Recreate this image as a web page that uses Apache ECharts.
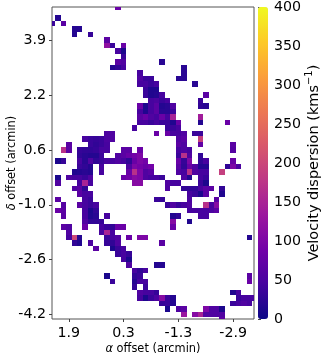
<!DOCTYPE html>
<html>
<head>
<meta charset="utf-8">
<script src="https://cdn.jsdelivr.net/npm/echarts@6/dist/echarts.min.js"></script>
<style>
  html, body { margin: 0; padding: 0; background: #fff; }
  #chart { width: 323px; height: 356px; }
</style>
</head>
<body>
<div id="chart"></div>
<script>
// velocity dispersion per map row, top to bottom: { column: km/s }
const dispersionRows = [
  {12: 80},
  {},
  {1: 18},
  {0: 35, 2: 65},
  {4: 18, 5: 18},
  {4: 18, 7: 32},
  {10: 65},
  {10: 120, 11: 35, 13: 80},
  {12: 45, 13: 12},
  {13: 35},
  {12: 65, 13: 55, 20: 22},
  {11: 18, 12: 28, 13: 45, 24: 22},
  {16: 45, 24: 22},
  {16: 55, 17: 35, 18: 35, 23: 22, 24: 22},
  {16: 45, 17: 45, 18: 35, 19: 45, 26: 22},
  {17: 35, 18: 15, 19: 15},
  {17: 35, 18: 15, 19: 18, 20: 45, 28: 65},
  {18: 45, 19: 50, 20: 35, 21: 45, 27: 35},
  {16: 80, 17: 12, 18: 45, 19: 65, 20: 18, 21: 22, 22: 55, 27: 28, 28: 22},
  {16: 45, 17: 15, 18: 45, 19: 65, 20: 22, 21: 22, 22: 35},
  {16: 65, 17: 80, 18: 55, 19: 45, 20: 80, 21: 45, 22: 150, 27: 140},
  {16: 45, 17: 45, 18: 35, 19: 45, 20: 35, 21: 35, 22: 15, 23: 80, 27: 18, 32: 80},
  {15: 45, 21: 35, 22: 35, 23: 45},
  {10: 50, 11: 55, 19: 80, 21: 80, 22: 45, 23: 45, 24: 55, 26: 35, 27: 35},
  {6: 45, 7: 35, 8: 32, 9: 35, 10: 50, 11: 55, 23: 55, 24: 65, 27: 190},
  {3: 65, 7: 35, 8: 28, 9: 35, 10: 45, 23: 65, 24: 55, 27: 72, 33: 65},
  {2: 170, 3: 65, 5: 32, 6: 28, 7: 28, 8: 32, 9: 45, 10: 45, 13: 65, 14: 65, 16: 80, 23: 45, 24: 55, 25: 45, 33: 60},
  {5: 28, 6: 22, 7: 18, 8: 18, 9: 35, 12: 55, 13: 65, 14: 80, 15: 90, 16: 100, 23: 35, 24: 170, 25: 55, 27: 28},
  {1: 12, 2: 32, 5: 45, 6: 22, 7: 55, 8: 28, 9: 35, 10: 45, 11: 45, 12: 55, 13: 45, 14: 28, 15: 80, 16: 100, 17: 90, 23: 80, 24: 32, 25: 100, 27: 28, 28: 45, 33: 80},
  {5: 35, 6: 28, 7: 18, 9: 45, 14: 55, 15: 100, 16: 90, 17: 80, 18: 90, 23: 65, 24: 28, 25: 80, 26: 55, 27: 18, 28: 18, 32: 28, 33: 100, 34: 50},
  {4: 15, 5: 18, 6: 22, 7: 18, 9: 45, 14: 80, 15: 170, 16: 100, 17: 55, 18: 65, 23: 55, 24: 45, 25: 170, 26: 55, 27: 45, 28: 45, 31: 190},
  {1: 10, 3: 55, 4: 45, 5: 45, 6: 35, 7: 55, 13: 80, 14: 90, 15: 110, 16: 100, 17: 55, 18: 45, 19: 45, 20: 35, 24: 55, 25: 18, 27: 45, 28: 35},
  {1: 55, 5: 45, 6: 150, 7: 45, 15: 110, 16: 110, 21: 55, 22: 45, 23: 45, 27: 35, 28: 12},
  {4: 55, 5: 65, 6: 28, 21: 55, 24: 28, 25: 28, 26: 28, 27: 45, 28: 65, 29: 65, 31: 28},
  {5: 65, 6: 45, 7: 45, 25: 45, 26: 35, 27: 12, 28: 65, 31: 15},
  {1: 65, 6: 45, 7: 35, 19: 35, 20: 32, 25: 50, 30: 65},
  {2: 60, 5: 65, 6: 45, 7: 35, 8: 45, 21: 35, 22: 55, 23: 35, 24: 45, 25: 55, 28: 170, 29: 45, 30: 110},
  {1: 80, 2: 65, 6: 45, 7: 12, 8: 28, 25: 45, 26: 45, 27: 45, 28: 45, 29: 50, 30: 65},
  {2: 65, 6: 45, 7: 15, 8: 22, 10: 45, 22: 18, 23: 28, 27: 45, 28: 45},
  {6: 55, 7: 28, 8: 28, 9: 32, 22: 110, 25: 15},
  {2: 65, 3: 55, 6: 80, 9: 45, 10: 35, 11: 28, 12: 80, 13: 80, 22: 80},
  {3: 55, 9: 45, 10: 150, 11: 45},
  {3: 45, 4: 200, 5: 18, 10: 35, 11: 45, 12: 55, 14: 80, 16: 100, 17: 100, 36: 18},
  {4: 28, 5: 15, 7: 50, 10: 32, 11: 28, 12: 55, 20: 65},
  {8: 65, 11: 12, 12: 35, 13: 45},
  {12: 35, 13: 45, 14: 32},
  {13: 45, 14: 12},
  {14: 55, 19: 18, 20: 18},
  {15: 45, 16: 28, 17: 45},
  {10: 10, 15: 28, 16: 35, 36: 65},
  {11: 35, 15: 18, 16: 45, 17: 45, 36: 80},
  {15: 28, 17: 35},
  {16: 55, 17: 45, 18: 45, 19: 32, 33: 15, 34: 45},
  {16: 45, 17: 12, 18: 35, 19: 50, 20: 110, 21: 35, 22: 18, 34: 35, 35: 45, 36: 45, 37: 45},
  {20: 32, 21: 35, 22: 18, 33: 35, 34: 45, 35: 55, 36: 45},
  {21: 12, 23: 55, 24: 65, 28: 100, 29: 55, 30: 55, 31: 12},
  {24: 130, 26: 110, 27: 150, 28: 55, 29: 55, 30: 55, 31: 55},
  {31: 65},
]

const xTickCols = [3.5, 13.5, 23.5, 33.5]
const xTickLabels = ['1.9', '0.3', '-1.3', '-2.9']
const yTickRows = [6.5, 16.5, 26.5, 36.5, 46.5, 56.5]
const yTickLabels = ['3.9', '2.2', '0.6', '-1.0', '-2.6', '-4.2']

// matplotlib plasma
const plasma = [
  '#0d0887', '#46039f', '#7201a8', '#9c179e', '#bd3786',
  '#d8576b', '#ed7953', '#fb9f3a', '#fdca26', '#f0f921',
]

const cells = []
dispersionRows.forEach((row, r) => {
  Object.keys(row).forEach((c) => cells.push([+c, r, row[c]]))
})

const font = 'DejaVu Sans'
const frame = { lineStyle: { color: '#444', width: 1 } }

echarts.init(document.getElementById('chart')).setOption({
  animation: false,
  textStyle: { fontFamily: font },
  grid: [
    { left: 52, top: 7, width: 202, height: 312, show: true, borderColor: '#555', borderWidth: 1, outerBoundsMode: 'none' },
    { left: 258, top: 7, width: 10, height: 312, show: false, outerBoundsMode: 'none' },
  ],
  xAxis: [
    {
      type: 'value',
      gridIndex: 0,
      min: 0.44,
      max: 37.3,
      splitLine: { show: false },
      axisLine: { show: false },
      axisTick: { customValues: xTickCols, length: 3, ...frame },
      axisLabel: {
        customValues: xTickCols,
        formatter: (v) => xTickLabels[xTickCols.indexOf(v)],
        color: '#000',
        fontSize: 14.2,
        margin: 7,
      },
      name: '{i|α} offset (arcmin)',
      nameLocation: 'middle',
      nameMoveOverlap: false,
      nameGap: 25,
      nameTextStyle: {
        color: '#000',
        fontSize: 11.4,
        rich: { i: { fontStyle: 'italic', fontSize: 11.4, color: '#000' } },
      },
    },
    { type: 'value', gridIndex: 1, show: false, min: 0, max: 1 },
  ],
  yAxis: [
    {
      type: 'value',
      gridIndex: 0,
      inverse: true,
      min: 0.47,
      max: 57.3,
      splitLine: { show: false },
      axisLine: { show: false },
      axisTick: { customValues: yTickRows, length: 3, ...frame },
      axisLabel: {
        customValues: yTickRows,
        formatter: (v) => yTickLabels[yTickRows.indexOf(v)],
        color: '#000',
        fontSize: 14.2,
        margin: 6,
      },
      name: '{i|δ} offset (arcmin)',
      nameLocation: 'middle',
      nameMoveOverlap: false,
      nameGap: 34,
      nameTextStyle: {
        color: '#000',
        fontSize: 11.4,
        rich: { i: { fontStyle: 'italic', fontSize: 11.4, color: '#000' } },
      },
    },
    {
      type: 'value',
      gridIndex: 1,
      position: 'right',
      min: 0,
      max: 400,
      interval: 50,
      splitLine: { show: false },
      axisLine: { show: false },
      axisTick: { length: 3, ...frame },
      axisLabel: { color: '#000', fontSize: 14.2, margin: 6 },
      name: 'Velocity dispersion (kms{s|−1})',
      nameLocation: 'middle',
      nameMoveOverlap: false,
      nameGap: 36,
      nameTextStyle: {
        color: '#000',
        fontSize: 14.5,
        lineHeight: 20,
        rich: { s: { fontSize: 10, color: '#000', verticalAlign: 'top', lineHeight: 14 } },
      },
    },
  ],
  visualMap: {
    type: 'continuous',
    seriesIndex: 0,
    dimension: 2,
    min: 0,
    max: 400,
    left: 258,
    top: 7,
    itemWidth: 10,
    itemHeight: 312,
    calculable: false,
    text: ['', ''],
    showLabel: false,
    padding: 0,
    inRange: { color: plasma },
  },
  series: [
    {
      type: 'custom',
      xAxisIndex: 0,
      yAxisIndex: 0,
      clip: true,
      encode: { x: 0, y: 1 },
      data: cells,
      renderItem: (params, api) => {
        const a = api.coord([api.value(0), api.value(1)])
        const b = api.coord([api.value(0) + 1, api.value(1) + 1])
        // snap to whole pixels so neighbouring cells leave no seams
        const x = Math.round(a[0])
        const y = Math.round(a[1])
        return {
          type: 'rect',
          shape: { x: x, y: y, width: Math.round(b[0]) - x, height: Math.round(b[1]) - y },
          style: { fill: api.visual('color') },
        }
      },
    },
    {
      // carries the colorbar axis
      type: 'line',
      xAxisIndex: 1,
      yAxisIndex: 1,
      data: [],
    },
  ],
})
</script>
</body>
</html>
